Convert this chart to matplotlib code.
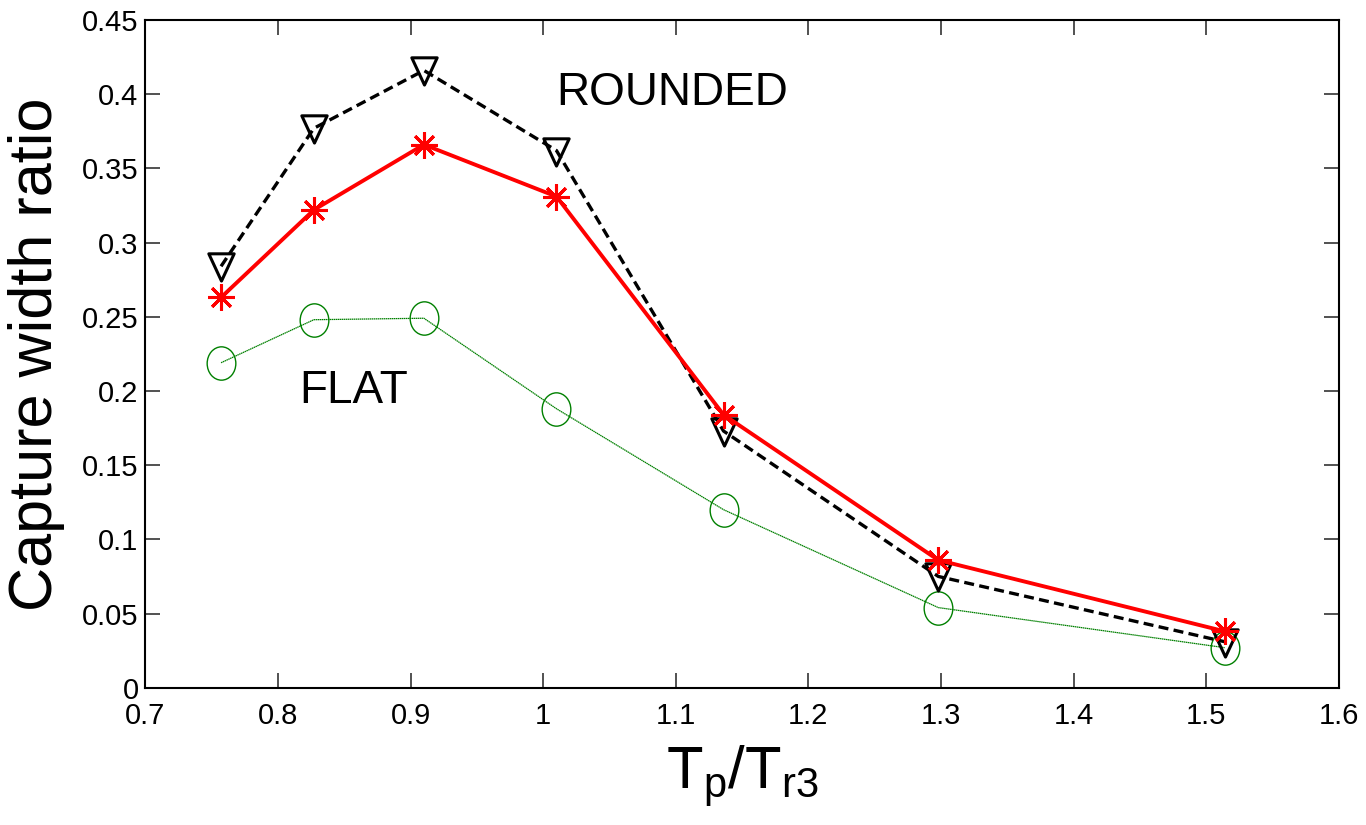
import matplotlib
matplotlib.use("Agg")
import matplotlib.pyplot as plt
from matplotlib.path import Path
from matplotlib.transforms import Affine2D
import numpy as np

plt.rcParams["font.family"] = ["Liberation Sans", "DejaVu Sans"]
plt.rcParams["mathtext.fontset"] = "custom"
plt.rcParams["mathtext.rm"] = "Liberation Sans"
plt.rcParams["mathtext.it"] = "Liberation Sans"

# period ratio Tp/Tr3
period_ratio = [0.757, 0.827, 0.910, 1.010, 1.136, 1.298, 1.514]

# capture width ratio for each device shape
rounded = [0.284, 0.377, 0.416, 0.362, 0.173, 0.075, 0.031]
middle = [0.263, 0.322, 0.366, 0.331, 0.184, 0.086, 0.038]
flat = [0.219, 0.248, 0.249, 0.188, 0.120, 0.054, 0.027]

x_ticks = [0.7, 0.8, 0.9, 1.0, 1.1, 1.2, 1.3, 1.4, 1.5, 1.6]
x_ticklabels = ["0.7", "0.8", "0.9", "1", "1.1", "1.2", "1.3", "1.4", "1.5", "1.6"]
y_ticks = [0, 0.05, 0.1, 0.15, 0.2, 0.25, 0.3, 0.35, 0.4, 0.45]
y_ticklabels = ["0", "0.05", "0.1", "0.15", "0.2", "0.25", "0.3", "0.35", "0.4", "0.45"]

# slightly tall markers
oval = Path.unit_circle().transformed(Affine2D().scale(0.86, 1.0))
tri = Path([(-1, 1), (1, 1), (0, -1.15), (-1, 1)], closed=True)

fig = plt.figure(figsize=(13.66, 8.25), dpi=100)
ax = fig.add_axes([0.1065, 0.1664, 0.8735, 0.8094])

ax.plot(period_ratio, rounded, color="black", linestyle="--", linewidth=2.4,
        dashes=(3, 1.6), marker=tri, markersize=21, markerfacecolor="none",
        markeredgewidth=2.2, zorder=3)
ax.plot(period_ratio, middle, color="red", linestyle="-", linewidth=2.8,
        marker=(8, 2, 0), markersize=19, markeredgewidth=2.2, zorder=4)
ax.plot(period_ratio, flat, color="#008000", linestyle=":", linewidth=0.9,
        dashes=(1.2, 0.4), marker=oval, markersize=24, markerfacecolor="none",
        markeredgewidth=1.0, zorder=2)

ax.text(1.010, 0.393, "ROUNDED", fontsize=33, ha="left", va="baseline")
ax.text(0.816, 0.192, "FLAT", fontsize=33, ha="left", va="baseline")

ax.set_xlim(0.7, 1.6)
ax.set_ylim(0, 0.45)
ax.set_xticks(x_ticks)
ax.set_xticklabels(x_ticklabels)
ax.set_yticks(y_ticks)
ax.set_yticklabels(y_ticklabels)
ax.tick_params(direction="in", length=11, width=1.2, color="#333333",
               labelsize=21, top=True, right=True, pad=5)
ax.tick_params(axis="x", pad=10)

for s in ax.spines.values():
    s.set_linewidth(1.5)

ax.set_ylabel("Capture width ratio", fontsize=44, labelpad=12)
ax.set_xlabel(r"$\mathregular{T_p/T_{r3}}$", fontsize=43, labelpad=10)

fig.savefig("out.png", dpi=100)
